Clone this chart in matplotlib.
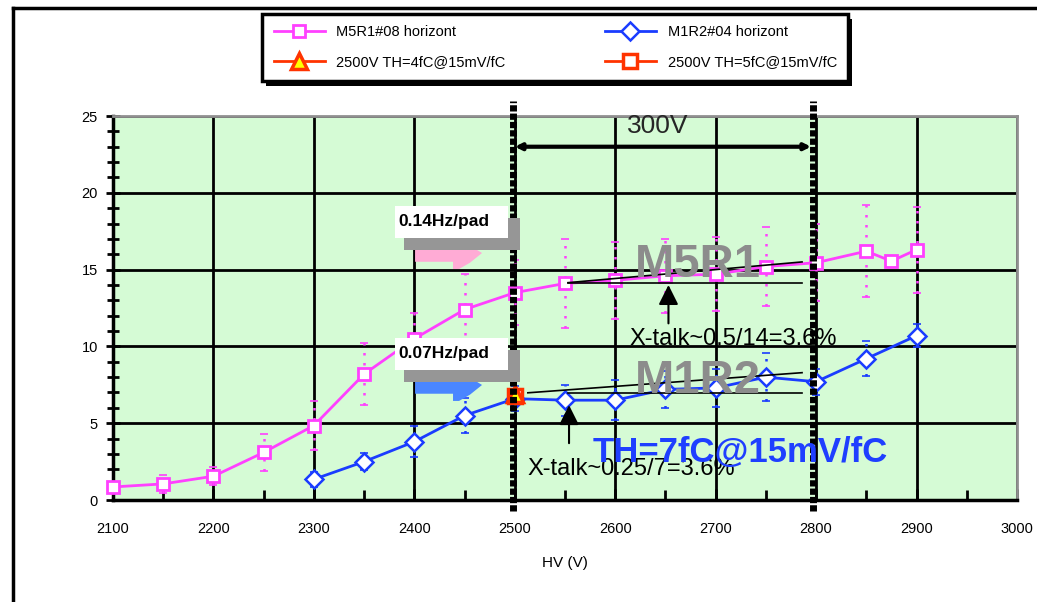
import matplotlib.pyplot as plt
import matplotlib.patches as mpatches
from matplotlib.lines import Line2D
from matplotlib.ticker import MultipleLocator

plt.rcParams['font.family'] = ['Liberation Sans', 'DejaVu Sans']

# M5R1#08 horizont
hv_m5r1 = [2100, 2150, 2200, 2250, 2300, 2350, 2400, 2450, 2500, 2550, 2600,
           2650, 2700, 2750, 2800, 2850, 2875, 2900]
m5r1 = [0.85, 1.05, 1.55, 3.1, 4.85, 8.2, 10.5, 12.4, 13.5, 14.1, 14.3,
        14.6, 14.7, 15.2, 15.45, 16.2, 15.55, 16.3]
m5r1_err = [0.3, 0.6, 0.6, 1.2, 1.6, 2.0, 1.7, 2.3, 2.1, 2.9, 2.5,
            2.4, 2.4, 2.6, 2.5, 3.0, 0.0, 2.8]

# M1R2#04 horizont
hv_m1r2 = [2300, 2350, 2400, 2450, 2500, 2550, 2600, 2650, 2700, 2750, 2800, 2850, 2900]
m1r2 = [1.35, 2.5, 3.8, 5.5, 6.6, 6.5, 6.5, 7.2, 7.3, 8.0, 7.7, 9.2, 10.7]
m1r2_err = [0.5, 0.55, 1.0, 1.15, 0.8, 1.0, 1.3, 1.2, 1.25, 1.55, 0.85, 1.15, 0.75]

# single points at 2500 V
hv_th4 = [2500]
th4 = [6.9]
hv_th5 = [2500]
th5 = [6.8]

labels = ['M5R1#08 horizont', 'M1R2#04 horizont',
          '2500V TH=4fC@15mV/fC', '2500V TH=5fC@15mV/fC']

magenta = '#ff40ff'
blue = '#1a3cff'
red = '#ff3300'

fig = plt.figure(figsize=(10.37, 6.02), dpi=100)
ax = fig.add_axes([0.109, 0.1694, 0.8717, 0.6379])
ax.set_facecolor('#d5fbd5')
ax.set_xlim(2100, 3000)
ax.set_ylim(0, 25)
ax.xaxis.set_major_locator(MultipleLocator(100))
ax.xaxis.set_minor_locator(MultipleLocator(50))
ax.yaxis.set_major_locator(MultipleLocator(5))
ax.yaxis.set_minor_locator(MultipleLocator(1))
ax.grid(which='major', color='black', lw=2)
ax.set_axisbelow(True)
for s in ['left', 'bottom']:
    ax.spines[s].set_color('black')
    ax.spines[s].set_linewidth(2.5)
for s in ['top', 'right']:
    ax.spines[s].set_color('#909090')
    ax.spines[s].set_linewidth(2)
ax.tick_params(axis='y', which='major', direction='inout', length=10, width=2,
               labelsize=10.5, pad=6)
ax.tick_params(axis='y', which='minor', direction='inout', length=8, width=2)
ax.tick_params(axis='x', which='major', direction='in', length=8, width=2,
               labelsize=10.5, pad=16)
ax.tick_params(axis='x', which='minor', direction='in', length=7, width=2)
ax.set_xlabel('HV (V)', fontsize=11, labelpad=14)

# error bars (dotted)
for xs, ys, es, col in [(hv_m5r1, m5r1, m5r1_err, magenta), (hv_m1r2, m1r2, m1r2_err, blue)]:
    eb = ax.errorbar(xs, ys, yerr=es, fmt='none', ecolor=col,
                     elinewidth=1.8, capsize=3, capthick=1.2, zorder=3)
    eb[2][0].set_linestyle((0, (1, 3)))

l1, = ax.plot(hv_m5r1, m5r1, color=magenta, lw=2, marker='s', ms=9, mfc='white',
              mec=magenta, mew=2, label=labels[0], clip_on=False, zorder=4)
l2, = ax.plot(hv_m1r2, m1r2, color=blue, lw=2, marker='D', ms=9, mfc='white',
              mec=blue, mew=1.8, label=labels[1], clip_on=False, zorder=4)
l4, = ax.plot(hv_th5, th5, color=red, lw=2, marker='s', ms=10, mfc='white',
              mec=red, mew=2.5, label=labels[3], zorder=5)
l3, = ax.plot(hv_th4, th4, color=red, lw=2, marker='^', ms=12, mfc='yellow',
              mec=red, mew=2.5, label=labels[2], zorder=5)

# 300V window
for xv in (2498, 2797):
    ax.plot([xv, xv], [-0.7, 26.0], color='black', lw=5, linestyle=(0, (0.9, 0.3)),
            dash_capstyle='butt', clip_on=False, zorder=6)
ax.annotate('', xy=(2500, 23.0), xytext=(2795, 23.0),
            arrowprops=dict(arrowstyle='<|-|>', lw=3, color='black',
                            mutation_scale=9, shrinkA=0, shrinkB=0), zorder=6)
ax.text(2642, 25.1, '300V', ha='center', va='top', fontsize=19, color='#262626', zorder=6)

# crosstalk slope lines
ax.plot([2553, 2786], [14.15, 15.5], color='black', lw=1.2, zorder=5)
ax.plot([2553, 2786], [14.15, 14.15], color='black', lw=1.2, zorder=5)
ax.plot([2513, 2786], [6.98, 8.29], color='black', lw=1.2, zorder=5)
ax.plot([2553, 2786], [6.98, 6.98], color='black', lw=1.2, zorder=5)

ax.text(2682, 14.52, 'M5R1', fontsize=34, fontweight='bold', color='#8c8c8c',
        ha='center', va='baseline', zorder=6)
ax.text(2682, 6.97, 'M1R2', fontsize=34, fontweight='bold', color='#8c8c8c',
        ha='center', va='baseline', zorder=6)
ax.text(2513, 1.63, 'X-talk~0.25/7=3.6%', fontsize=17, color='black',
        va='baseline', zorder=6)
ax.text(2724, 2.47, 'TH=7fC@15mV/fC', fontsize=25, fontweight='bold', color='#1f3fff',
        ha='center', va='baseline', zorder=7)
ax.text(2614, 10.09, 'X-talk~0.5/14=3.6%', fontsize=17, color='black',
        va='baseline', zorder=6)
ax.annotate('', xy=(2653, 14.0), xytext=(2653, 11.5),
            arrowprops=dict(arrowstyle='-|>', color='black', lw=1.5,
                            mutation_scale=30, shrinkA=0, shrinkB=0), zorder=6)
ax.annotate('', xy=(2554, 6.18), xytext=(2554, 3.7),
            arrowprops=dict(arrowstyle='-|>', color='black', lw=1.5,
                            mutation_scale=30, shrinkA=0, shrinkB=0), zorder=6)

# rate callouts
wedge = [(2400.7, 16.28), (2462.4, 16.28), (2467.4, 16.08), (2455.4, 15.45),
         (2444.5, 15.04), (2438.5, 15.04), (2438.5, 15.51), (2400.7, 15.51)]
for dy, txt, col in [(0, '0.14Hz/pad', '#ffabd5'), (-8.59, '0.07Hz/pad', '#4a86ff')]:
    ax.add_patch(mpatches.Polygon([(x, y + dy) for x, y in wedge], closed=True,
                                  facecolor=col, edgecolor='none', zorder=7))
    ax.add_patch(mpatches.Rectangle((2389.7, 16.28 + dy), 115.5, 2.08,
                                    facecolor='#969696', edgecolor='none', zorder=7))
    ax.add_patch(mpatches.Rectangle((2380.8, 17.08 + dy), 112.5, 2.06,
                                    facecolor='white', edgecolor='none', zorder=8))
    ax.text(2384, 18.1 + dy, txt, fontsize=12.5, fontweight='bold', va='center', zorder=9)

# legend
leg = fig.legend([l1, l3, l2, l4], [labels[0], labels[2], labels[1], labels[3]],
                 ncol=2, loc='center', bbox_to_anchor=(0.2527, 0.864, 0.5655, 0.115),
                 mode='expand', fancybox=False, framealpha=1, edgecolor='black',
                 fontsize=10.5, handlelength=3.5, borderaxespad=0, borderpad=0.8,
                 labelspacing=1.1)
leg.get_frame().set_linewidth(2.5)
leg.set_zorder(5)

# black shadow behind the legend frame
fig.canvas.draw()
bb = leg.get_frame().get_window_extent().transformed(fig.transFigure.inverted())
fig.add_artist(mpatches.Rectangle((bb.x0 + 4 / 1037, bb.y0 - 5 / 602), bb.width, bb.height,
                                  transform=fig.transFigure, facecolor='black',
                                  edgecolor='none', zorder=4))

# chart-area border
fig.add_artist(Line2D([0.0125, 0.0125], [0, 0.986], color='black', lw=2.5,
                      transform=fig.transFigure))
fig.add_artist(Line2D([0.0125, 1.0], [0.986, 0.986], color='black', lw=2.5,
                      transform=fig.transFigure))

fig.savefig('out.png', dpi=100)
